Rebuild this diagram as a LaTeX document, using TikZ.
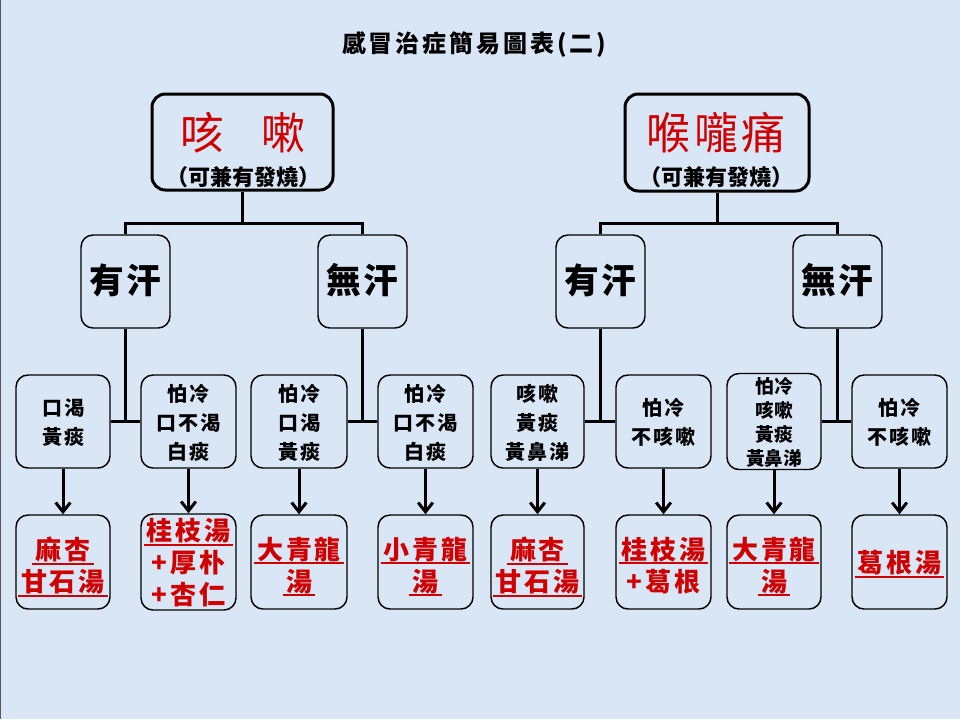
\documentclass[tikz,border=0pt]{standalone}
\usepackage{fontspec}
\setmainfont{Noto Sans CJK TC}
\usetikzlibrary{arrows.meta}
\definecolor{bgblue}{RGB}{217,230,245}
\definecolor{redtxt}{RGB}{208,0,0}
\newsavebox\ulbox
\newcommand\ulr[1]{\sbox\ulbox{#1}\rlap{\kern-2.5pt\rule[-4pt]{\dimexpr\wd\ulbox+5pt\relax}{1.5pt}}\usebox\ulbox}
\newcommand\lsk{0pt}
\newcommand\ls[2]{{\renewcommand\lsk{#1}\lsgo#2\relax}}
\def\lsgo#1{#1\lsnext}
\def\lsnext#1{\ifx#1\relax\else\kern\lsk#1\expandafter\lsnext\fi}
\newcommand\lsa[1]{\ls{0.1em}{#1}}
\newcommand\dn[2]{\raisebox{-#1}[\height][\depth]{\begin{tabular}{@{}c@{}}#2\end{tabular}}}
\begin{document}
\begin{tikzpicture}[x=0.75pt,y=-0.75pt,
  topbox/.style={draw=black, line width=2.25pt, rounded corners=10pt, inner sep=0pt},
  sbox/.style={draw=black, line width=1.1pt, rounded corners=9pt, inner sep=0pt, align=center},
  boxsize/.style 2 args={minimum width=#1*0.75pt, minimum height=#2*0.75pt},
  conn/.style={line width=2.25pt},
  arr/.style={line width=2.25pt, -{Straight Barb[length=7pt,width=11pt]}},
  lvtwo/.style={font=\fontsize{26}{30}\selectfont\bfseries},
  lvthree/.style={font=\fontsize{15}{21.75}\selectfont\bfseries},
  lvthreesmall/.style={font=\fontsize{14}{18}\selectfont\bfseries},
  lvfour/.style={font=\fontsize{19.5}{24}\selectfont\bfseries, text=redtxt},
  redhead/.style={font=\fontsize{33}{36}\selectfont, text=redtxt},
  subhead/.style={font=\fontsize{16.5}{18}\selectfont\bfseries}
]
\fill[bgblue] (0,0) rectangle (960,719);
\path[use as bounding box] (0,0) rectangle (960,719);
\draw[black!65, line width=0.75pt] (0.5,0) -- (0.5,719);

% title
\node[font=\fontsize{18}{20}\selectfont\bfseries] (title) at (474,45) {\ls{0.12em}{感冒治症簡易圖表(二)}};

% top boxes
\node[topbox, boxsize={181}{96}] (TL) at (242.5,142) {};
\node[redhead] (TLt) at (243,133) {咳\hspace{28pt}嗽};
\node[subhead] (TLs) at (243,177) {（可兼有發燒）};
\node[topbox, boxsize={184}{97}] (TR) at (717,142.5) {};
\node[redhead] (TRt) at (716,133) {\ls{0.08em}{喉嚨痛}};
\node[subhead] (TRs) at (716,177) {（可兼有發燒）};

% level 2
\node[sbox, boxsize={89}{93}, lvtwo] (L1) at (125.5,281.5) {\dn{2.5pt}{\ls{0.05em}{有汗}}};
\node[sbox, boxsize={89}{93}, lvtwo] (L2) at (362.5,281.5) {\dn{2.5pt}{\ls{0.05em}{無汗}}};
\node[sbox, boxsize={89}{93}, lvtwo] (R1) at (600.5,281.5) {\dn{2.5pt}{\ls{0.05em}{有汗}}};
\node[sbox, boxsize={89}{93}, lvtwo] (R2) at (837.5,281.5) {\dn{2.5pt}{\ls{0.05em}{無汗}}};

% level 3
\node[sbox, boxsize={94}{93}, lvthree] (A) at (63,421.5) {\dn{2.25pt}{\lsa{口渴}\\\lsa{黃痰}}};
\node[sbox, boxsize={95}{93}, lvthree] (B) at (188.5,421.5) {\dn{2.25pt}{\lsa{怕冷}\\\lsa{口不渴}\\\lsa{白痰}}};
\node[sbox, boxsize={96}{93}, lvthree] (C) at (299,421.5) {\dn{2.25pt}{\lsa{怕冷}\\\lsa{口渴}\\\lsa{黃痰}}};
\node[sbox, boxsize={95}{93}, lvthree] (D) at (425.5,421.5) {\dn{2.25pt}{\lsa{怕冷}\\\lsa{口不渴}\\\lsa{白痰}}};
\node[sbox, boxsize={93}{93}, lvthree] (E) at (537.5,421.5) {\dn{2.25pt}{\lsa{咳嗽}\\\lsa{黃痰}\\\lsa{黃鼻涕}}};
\node[sbox, boxsize={95}{93}, lvthree] (F) at (663.5,421.5) {\dn{2.25pt}{\lsa{怕冷}\\\lsa{不咳嗽}}};
\node[sbox, boxsize={94}{93}, lvthreesmall] (G) at (774,421.5) {\dn{2.5pt}{怕冷\\咳嗽\\黃痰\\黃鼻涕}};
\node[sbox, boxsize={95}{93}, lvthree] (H) at (899.5,421.5) {\dn{2.25pt}{\lsa{怕冷}\\\lsa{不咳嗽}}};

% level 4
\node[sbox, boxsize={94}{94}, lvfour] (A4) at (63,562) {\dn{5pt}{\ulr{\lsa{麻杏}}\\\ulr{\lsa{甘石湯}}}};
\node[sbox, boxsize={95}{94}, lvfour] (B4) at (188.5,562) {\dn{3pt}{\ulr{\lsa{桂枝湯}}\\\lsa{+厚朴}\\\lsa{+杏仁}}};
\node[sbox, boxsize={96}{94}, lvfour] (C4) at (299,562) {\dn{5pt}{\ulr{\lsa{大青龍}}\\\ulr{湯}}};
\node[sbox, boxsize={95}{94}, lvfour] (D4) at (425.5,562) {\dn{5pt}{\ulr{\lsa{小青龍}}\\\ulr{湯}}};
\node[sbox, boxsize={93}{94}, lvfour] (E4) at (537.5,562) {\dn{5pt}{\ulr{\lsa{麻杏}}\\\ulr{\lsa{甘石湯}}}};
\node[sbox, boxsize={95}{94}, lvfour] (F4) at (663.5,562) {\dn{5pt}{\ulr{\lsa{桂枝湯}}\\\lsa{+葛根}}};
\node[sbox, boxsize={94}{94}, lvfour] (G4) at (774,562) {\dn{5pt}{\ulr{\lsa{大青龍}}\\\ulr{湯}}};
\node[sbox, boxsize={95}{94}, lvfour] (H4) at (899.5,562) {\dn{3pt}{\ulr{\lsa{葛根湯}}}};

% connectors top
\coordinate (LB) at (242.5,223);
\coordinate (RB) at (717,223);
\draw[conn] (TL.south) -- (LB);
\draw[conn] (L1.north) |- (LB) -| (L2.north);
\draw[conn] (TR.south) -- (RB);
\draw[conn] (R1.north) |- (RB) -| (R2.north);

% connectors level 2 to level 3
\draw[conn] (L1.south) -- (L1.south |- A.east);
\draw[conn] (A.east) -- (B.west);
\draw[conn] (L2.south) -- (L2.south |- C.east);
\draw[conn] (C.east) -- (D.west);
\draw[conn] (R1.south) -- (R1.south |- E.east);
\draw[conn] (E.east) -- (F.west);
\draw[conn] (R2.south) -- (R2.south |- G.east);
\draw[conn] (G.east) -- (H.west);

% arrows
\foreach \s/\t in {A/A4,B/B4,C/C4,D/D4,E/E4,F/F4,G/G4,H/H4}
  \draw[arr] (\s.south) -- (\t.north);
\end{tikzpicture}
\end{document}
